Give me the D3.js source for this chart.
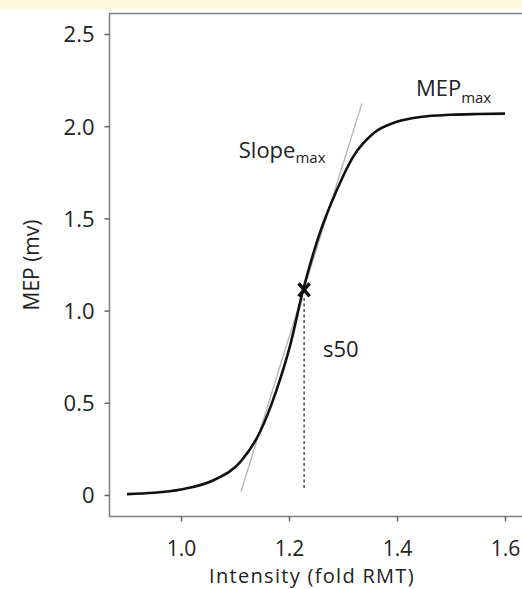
<!DOCTYPE html>
<html>
<head>
<meta charset="utf-8">
<script src="https://cdn.jsdelivr.net/npm/d3@7"></script>
<style>
  body { margin: 0; background: #fff; }
  text { font-family: "Open Sans", "Noto Sans", sans-serif; fill: #222; }
</style>
</head>
<body>
<svg id="canvas" width="522" height="589"></svg>
<script>
// recruitment curve
var curveX = [0.90, 0.95, 1.00, 1.06, 1.11, 1.146, 1.177, 1.202, 1.226, 1.257, 1.288, 1.319, 1.356, 1.40, 1.443, 1.50, 1.55, 1.60];
var curveY = [0.005, 0.012, 0.03, 0.08, 0.18, 0.34, 0.57, 0.81, 1.11, 1.42, 1.65, 1.835, 1.96, 2.024, 2.05, 2.062, 2.066, 2.068];

// tangent at max slope, s50 point
var slopeX = [1.111, 1.335];
var slopeY = [0.018, 2.124];
var s50X = 1.228;
var s50Y = 1.112;

var xTicks = [1.0, 1.2, 1.4, 1.6];
var yTicks = [0, 0.5, 1.0, 1.5, 2.0, 2.5];
var yTickLabels = ['0', '0.5', '1.0', '1.5', '2.0', '2.5'];

window.onload = function() {
    MakeChart();
}

function MakeChart() {
    var svg = d3.select('#canvas');

    // yellow strip at the top
    svg.append('rect')
        .attr('x', 0).attr('y', 0)
        .attr('width', 522).attr('height', 9)
        .style('fill', '#fff7de');

    var x = d3.scaleLinear().domain([1.0, 1.6]).range([181, 505]);
    var y = d3.scaleLinear().domain([0, 2.5]).range([495, 34]);

    var left = 109.5, top = 13.5, bottom = 516.5, right = 530;

    // frame (right side is cut off)
    svg.append('path')
        .attr('d', 'M' + right + ',' + top + 'H' + left + 'V' + bottom + 'H' + right)
        .style('fill', 'none')
        .style('stroke', '#808080')
        .style('stroke-width', 1.5);

    var yAxis = d3.axisLeft(y).tickValues(yTicks)
        .tickFormat((d, i) => yTickLabels[i])
        .tickSize(5).tickPadding(10);
    var gy = svg.append('g').attr('transform', 'translate(' + left + ',0)').call(yAxis);
    gy.select('.domain').remove();
    gy.selectAll('line').style('stroke', '#666').style('stroke-width', 1.5);
    gy.selectAll('text').style('font-size', '22px').style('fill', '#222')
        .attr('dy', '0.36em').attr('font-family', null);

    var xAxis = d3.axisBottom(x).tickValues(xTicks)
        .tickFormat(d3.format('.1f'))
        .tickSize(5).tickPadding(20);
    var gx = svg.append('g').attr('transform', 'translate(0,' + bottom + ')').call(xAxis);
    gx.select('.domain').remove();
    gx.selectAll('line').style('stroke', '#666').style('stroke-width', 1.5);
    gx.selectAll('text').style('font-size', '21px').style('fill', '#222')
        .attr('dy', '0.71em').attr('font-family', null);

    // axis titles
    svg.append('text')
        .attr('x', 312).attr('y', 583)
        .attr('text-anchor', 'middle')
        .style('font-size', '20px')
        .style('letter-spacing', '1.3px')
        .text('Intensity (fold RMT)');
    svg.append('text')
        .attr('transform', 'translate(39,265) rotate(-90)')
        .attr('text-anchor', 'middle')
        .style('font-size', '21px')
        .text('MEP (mv)');

    // tangent line
    var pts = d3.zip(slopeX, slopeY);
    svg.append('line')
        .attr('x1', x(pts[0][0])).attr('y1', y(pts[0][1]))
        .attr('x2', x(pts[1][0])).attr('y2', y(pts[1][1]))
        .style('stroke', '#b4b4b4')
        .style('stroke-width', 1.3);

    // s50 drop line
    svg.append('line')
        .attr('x1', x(s50X)).attr('y1', y(s50Y) + 8)
        .attr('x2', x(s50X)).attr('y2', y(0.03))
        .style('stroke', '#444')
        .style('stroke-width', 1.4)
        .style('stroke-dasharray', '3,2.5');

    // the curve
    var line = d3.line()
        .x(d => x(d[0]))
        .y(d => y(d[1]))
        .curve(d3.curveMonotoneX);
    svg.append('path')
        .datum(d3.zip(curveX, curveY))
        .attr('d', line)
        .style('fill', 'none')
        .style('stroke', '#111')
        .style('stroke-width', 2.6);

    // x marker
    var cx = x(s50X), cy = y(s50Y), s = 5.5;
    svg.append('path')
        .attr('d', 'M' + (cx - s) + ',' + (cy - s - 1) + 'L' + (cx + s) + ',' + (cy + s + 1) +
                   'M' + (cx + s) + ',' + (cy - s - 1) + 'L' + (cx - s) + ',' + (cy + s + 1))
        .style('stroke', '#111')
        .style('stroke-width', 3.4);

    // annotations
    var slopeLbl = svg.append('text')
        .attr('x', x(1.107)).attr('y', y(1.828))
        .style('font-size', '22px');
    slopeLbl.append('tspan').text('Slope');
    slopeLbl.append('tspan').attr('dy', 5).style('font-size', '15px').text('max');

    var mepLbl = svg.append('text')
        .attr('x', x(1.435)).attr('y', y(2.164))
        .style('font-size', '22px');
    mepLbl.append('tspan').text('MEP');
    mepLbl.append('tspan').attr('dy', 7).style('font-size', '15px').text('max');

    svg.append('text')
        .attr('x', x(1.263)).attr('y', y(0.748))
        .style('font-size', '22px')
        .text('s50');
}
</script>
</body>
</html>
